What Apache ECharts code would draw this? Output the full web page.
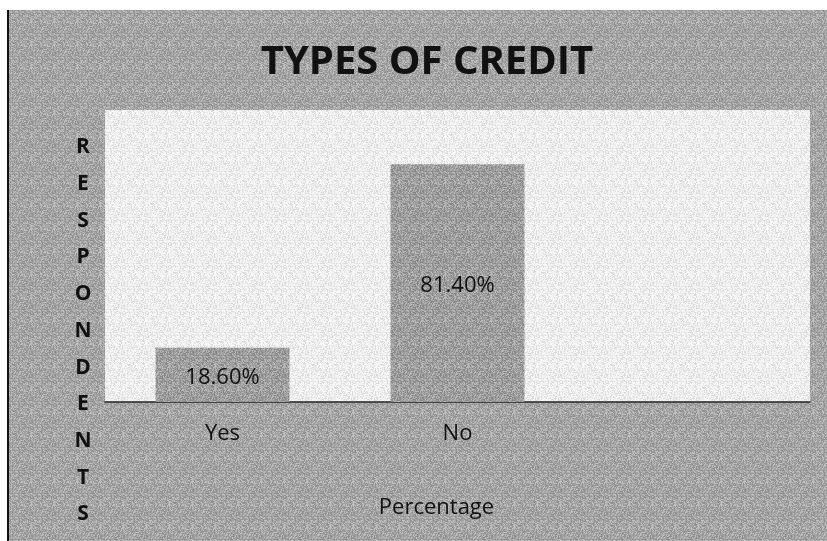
<!DOCTYPE html>
<html>
<head>
<meta charset="utf-8">
<script src="https://cdn.jsdelivr.net/npm/echarts@6/dist/echarts.min.js"></script>
<style>html,body{margin:0;padding:0;background:#fff}#c{width:827px;height:541px}</style>
</head>
<body>
<div id="c"></div>
<script>
const categories = ['Yes', 'No', ''];
const values = [18.6, 81.4, null];
const chartTitle = 'TYPES OF CREDIT';
const xAxisName = 'Percentage';
const yAxisName = 'RESPONDENTS';

function texture(a, b, c, size) {
  const cv = document.createElement('canvas');
  cv.width = size; cv.height = size;
  const ctx = cv.getContext('2d');
  for (let y = 0; y < size; y++) {
    for (let x = 0; x < size; x++) {
      const h = ((x * 73856093) ^ (y * 19349663) ^ ((x * 7 + y * 13) * 83492791)) >>> 0;
      const k = (h >>> 5) % 7;
      ctx.fillStyle = k < 3 ? a : (k < 5 ? b : c);
      ctx.fillRect(x, y, 1, 1);
    }
  }
  return cv;
}
const bgTex = texture('#a4a4a4', '#909090', '#bebebe', 23);
const plotTex = texture('#f0f0f0', '#dcdcdc', '#fafafa', 23);
const barTex = texture('#9e9e9e', '#878787', '#b8b8b8', 23);

const FONT = '"Open Sans", Lato, sans-serif';
const chart = echarts.init(document.getElementById('c'), null, {renderer: 'canvas'});
chart.setOption({
  animation: false,
  backgroundColor: '#ffffff',
  graphic: [
    {type: 'rect', z: -10, shape: {x: 8, y: 10, width: 819, height: 531}, style: {fill: {image: bgTex, repeat: 'repeat'}}},
    {type: 'rect', z: -9, shape: {x: 7, y: 10, width: 2, height: 531}, style: {fill: '#111'}}
  ],
  title: [{
    text: chartTitle,
    left: 422, top: 35,
    textAlign: 'center',
    textStyle: {fontFamily: FONT, fontWeight: 'bold', fontSize: 40, color: '#111', lineHeight: 46}
  }, {
    text: yAxisName.split('').join('\n'),
    left: 83, top: 129,
    padding: 0,
    textAlign: 'center',
    textStyle: {fontFamily: FONT, fontWeight: 'bold', fontSize: 21, color: '#111', lineHeight: 36.7}
  }],
  grid: {
    left: 105, right: 17, top: 110, bottom: 139,
    outerBoundsMode: 'none', containLabel: false,
    show: true, backgroundColor: {image: plotTex, repeat: 'repeat'}, borderWidth: 0
  },
  xAxis: {
    type: 'category',
    data: categories,
    name: xAxisName,
    nameLocation: 'middle',
    nameGap: 106,
    nameTextStyle: {fontFamily: FONT, fontSize: 22, color: '#111', align: 'center', verticalAlign: 'middle', padding: [0, 42, 0, 0]},
    axisLine: {lineStyle: {color: '#222', width: 1.5}},
    axisTick: {show: false},
    axisLabel: {fontFamily: FONT, fontSize: 22, color: '#111', margin: 21}
  },
  yAxis: {
    type: 'value',
    min: 0, max: 100,
    axisLine: {show: false},
    axisTick: {show: false},
    axisLabel: {show: false},
    splitLine: {show: false}
  },
  series: [{
    type: 'bar',
    data: values,
    barCategoryGap: '43%',
    itemStyle: {color: {image: barTex, repeat: 'repeat'}},
    label: {
      show: true,
      position: 'inside',
      offset: [0, 3],
      fontFamily: FONT,
      fontSize: 22,
      color: '#111',
      formatter: p => p.value == null ? '' : p.value.toFixed(2) + '%'
    }
  }]
});
</script>
</body>
</html>
